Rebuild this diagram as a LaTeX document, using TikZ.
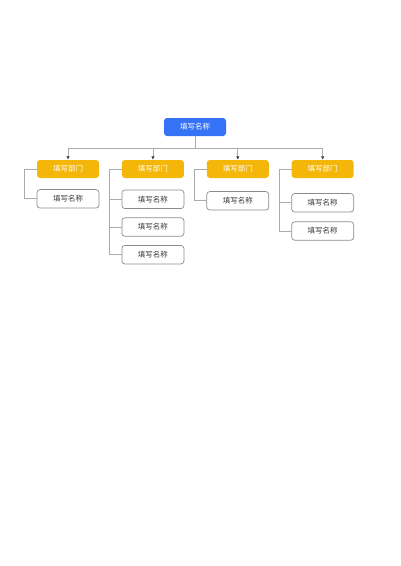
\documentclass[tikz,border=0pt]{standalone}
\usepackage{fontspec}
\setmainfont{Noto Sans CJK SC}
\usepackage{xcolor}
\usetikzlibrary{positioning, arrows.meta}
\definecolor{headblue}{HTML}{3572F5}
\definecolor{deptyellow}{HTML}{F5B60A}
\definecolor{linegray}{HTML}{ABABAB}
\definecolor{textgray}{HTML}{3A3A3A}
\tikzset{
    root/.style={rectangle, draw=none, fill=headblue, rounded corners=3pt, minimum width=62pt, minimum height=18pt, inner sep=0pt, text=white, font=\fontsize{7.5}{9}\selectfont},
    dept/.style={rectangle, draw=none, fill=deptyellow, rounded corners=3pt, minimum width=62pt, minimum height=18pt, inner sep=0pt, text=white, font=\fontsize{7.5}{9}\selectfont},
    leaf/.style={rectangle, draw=black!45, line width=0.7pt, fill=white, rounded corners=3pt, minimum width=62pt, minimum height=18.5pt, inner sep=0pt, text=textgray, font=\fontsize{7.5}{9}\selectfont},
    link/.style={draw=linegray, line width=0.8pt},
    arrow/.style={link, -{Latex[length=3.5pt, width=3.5pt, color=black!75]}}
}
\begin{document}
\begin{tikzpicture}[x=1pt, y=-1pt]
    \useasboundingbox (0,0) rectangle (400,566);
    \node[root] (Head) at (195,127) {填写名称};

    \node[dept] (DeptA) at (68,169) {填写部门};
    \node[dept, right=22.5pt of DeptA] (DeptB) {填写部门};
    \node[dept, right=22.5pt of DeptB] (DeptC) {填写部门};
    \node[dept, right=22.5pt of DeptC] (DeptD) {填写部门};

    \node[leaf, below=11pt of DeptA] (A1) {填写名称};
    \node[leaf, below=11.5pt of DeptB] (B1) {填写名称};
    \node[leaf, below=8.5pt of B1] (B2) {填写名称};
    \node[leaf, below=8.5pt of B2] (B3) {填写名称};
    \node[leaf, below=13pt of DeptC] (C1) {填写名称};
    \node[leaf, below=15pt of DeptD] (D1) {填写名称};
    \node[leaf, below=9pt of D1] (D2) {填写名称};

    % head to departments
    \foreach \d in {DeptA, DeptB, DeptC, DeptD}
        \draw[arrow] (Head.south) -- ++(0,12) -| (\d.north);

    % departments to members
    \draw[link] (DeptA.west) -- ++(-12,0) |- (A1.west);
    \foreach \m in {B1, B2, B3}
        \draw[link] (DeptB.west) -- ++(-12,0) |- (\m.west);
    \draw[link] (DeptC.west) -- ++(-12,0) |- (C1.west);
    \foreach \m in {D1, D2}
        \draw[link] (DeptD.west) -- ++(-12,0) |- (\m.west);
\end{tikzpicture}
\end{document}
